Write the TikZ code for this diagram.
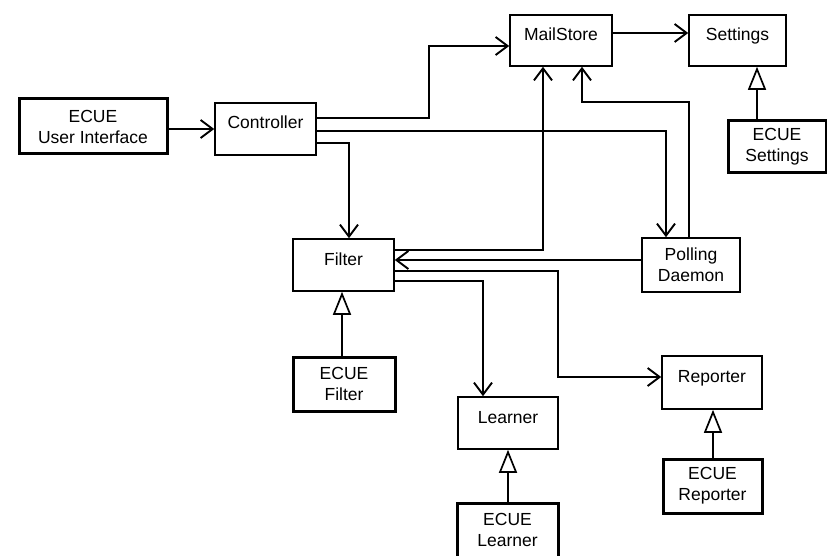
\documentclass[tikz,border=0pt]{standalone}
\usepackage{fontspec}
\setmainfont{Liberation Sans}
\usetikzlibrary{arrows.meta}
\tikzset{
  box/.style={draw, line width=1.6pt, rectangle, inner sep=0pt, font=\fontsize{17.5}{21}\selectfont},
  onebox/.style={box, text height=12pt, text depth=12pt},
  ecue/.style={box, line width=3pt, align=center},
  arr/.style={line width=1.7pt, -{Straight Barb[length=12pt,width=18pt,line width=1.9pt]}},
  inh/.style={line width=1.7pt, -{Triangle[open,fill=white,length=23pt,width=18pt,line width=1.7pt]}}
}
\begin{document}
\begin{tikzpicture}[x=1pt,y=-1pt]
\useasboundingbox (0,0) rectangle (827,556);
% nodes
\node[ecue, minimum width=148pt, minimum height=55pt] (ui) at (93,126.5) {ECUE\\User Interface};
\node[onebox, minimum width=101pt, minimum height=52pt] (ctrl) at (265.5,129) {Controller};
\node[onebox, minimum width=102pt, minimum height=51pt] (mail) at (561,40.5) {MailStore};
\node[onebox, minimum width=97pt, minimum height=51pt] (set) at (737.5,40.5) {Settings};
\node[ecue, minimum width=98pt, minimum height=52pt] (eset) at (777,147) {ECUE\\Settings};
\node[onebox, minimum width=101pt, minimum height=52pt] (filter) at (343.5,265) {Filter};
\node[box, align=center, minimum width=98pt, minimum height=54pt] (poll) at (691,265) {Polling\\Daemon};
\node[ecue, minimum width=102pt, minimum height=54pt] (efilter) at (344,384) {ECUE\\Filter};
\node[onebox, minimum width=100pt, minimum height=52pt] (learner) at (508,423) {Learner};
\node[ecue, minimum width=101pt, minimum height=54pt] (elearner) at (507.5,530) {ECUE\\Learner};
\node[onebox, minimum width=100pt, minimum height=53pt] (reporter) at (712,382.5) {Reporter};
\node[ecue, minimum width=99pt, minimum height=54pt] (ereporter) at (712.5,486) {ECUE\\Reporter};
% associations
\draw[arr] (ui.east |- ctrl.west) -- (ctrl.west);
\draw[arr] ([yshift=11pt]ctrl.east) -- ++(112,0) |- ([yshift=-5.5pt]mail.west);
\draw[arr] ([yshift=-2pt]ctrl.east) -| ([xshift=-25pt]poll.north);
\draw[arr] ([yshift=-14pt]ctrl.east) -| ([xshift=5.5pt]filter.north);
\draw[arr] ([yshift=15pt]filter.east) -| ([xshift=-18pt]mail.south);
\draw[arr] ([yshift=5pt]poll.west) -- ([yshift=5pt]filter.east);
\draw[arr] ([xshift=-2pt]poll.north) -- ++(0,-135) -| ([xshift=21pt]mail.south);
\draw[arr] ([yshift=7.5pt]mail.east) -- ([yshift=7.5pt]set.west);
\draw[arr] ([yshift=-16pt]filter.east) -| ([xshift=-25pt]learner.north);
\draw[arr] ([yshift=-6pt]filter.east) -- ++(163,0) |- ([yshift=5.5pt]reporter.west);
% inheritance
\draw[inh] ([xshift=-2pt]efilter.north) -- ([xshift=-1.5pt]filter.south);
\draw[inh] ([xshift=-20pt]eset.north) -- ([xshift=19.5pt]set.south);
\draw[inh] ([xshift=0.5pt]elearner.north) -- (learner.south);
\draw[inh] ([xshift=0.5pt]ereporter.north) -- ([xshift=1pt]reporter.south);
\end{tikzpicture}
\end{document}
